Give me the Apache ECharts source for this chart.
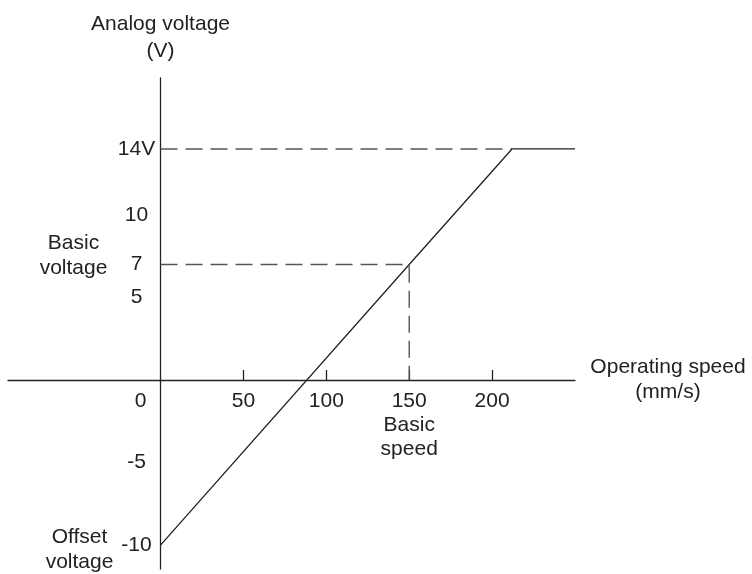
<!DOCTYPE html>
<html>
<head>
<meta charset="utf-8">
<script src="https://cdn.jsdelivr.net/npm/echarts@6/dist/echarts.min.js"></script>
<style>html,body{margin:0;padding:0;background:#fff;}#c{width:752px;height:574px;}</style>
</head>
<body>
<div id="c"></div>
<script>
// ---- data ----
var speedPts = [0, 150, 212, 250];          // mm/s
var voltPts  = [-10, 7, 14, 14];            // V
var dash14Speed = [0, 212];
var dash14Volt  = [14, 14];
var dash7Speed  = [0, 150, 150];
var dash7Volt   = [7, 7, 0];
var xTickValues = [0, 50, 100, 150, 200];
var xTickLabels = ['0', '50', '100', '150\nBasic\nspeed', '200'];
var yTickValues = [14, 10, 7, 5, -5, -10];
var yTickLabels = ['14V', '10', '7', '5', '-5', '-10'];
var basicVoltageAnchor = [0, 7];
var offsetVoltageAnchor = [0, -10];

function zip(a, b) { return a.map(function (v, i) { return [v, b[i]]; }); }

var FONT = '"Liberation Sans", Arial, sans-serif';
var INK = '#222';
var FS = 21;
var W = 752, H = 574;
var G = {left: 8, right: 177, top: 78, bottom: 5};
var chart = echarts.init(document.getElementById('c'), null, {renderer: 'canvas', width: W, height: H});
chart.setOption({
  animation: false,
  backgroundColor: '#fff',
  textStyle: {fontFamily: FONT, color: INK},
  grid: {left: G.left, right: G.right, top: G.top, bottom: G.bottom, containLabel: false, outerBoundsMode: 'none'},
  xAxis: {
    type: 'value', min: -92, max: 250, position: 'bottom', offset: 0,
    splitLine: {show: false},
    axisLine: {onZero: false, lineStyle: {color: INK, width: 1.3}},
    axisTick: {show: true, inside: true, length: 10, customValues: [50, 100, 150, 200], lineStyle: {color: INK, width: 1.3}},
    axisLabel: {
      customValues: xTickValues, margin: 9, fontSize: FS, color: INK, fontFamily: FONT, lineHeight: 24,
      formatter: function (v) {
        var i = xTickValues.indexOf(v);
        var s = i >= 0 ? xTickLabels[i] : '';
        if (v === 0) return '{o|' + s + '}';
        return s;
      },
      rich: {o: {fontSize: FS, color: INK, fontFamily: FONT, padding: [0, 40, 0, 0]}}
    },
    name: 'Operating speed\n(mm/s)', nameLocation: 'end', nameGap: 93,
    nameTextStyle: {fontSize: FS, color: INK, fontFamily: FONT, align: 'center', verticalAlign: 'middle', lineHeight: 25, padding: [25, 0, 0, 0]}
  },
  yAxis: {
    type: 'value', min: -11.45, max: 18.3, position: 'left', offset: 0,
    splitLine: {show: false},
    axisLine: {onZero: false, lineStyle: {color: INK, width: 1.3}},
    axisTick: {show: false},
    axisLabel: {
      customValues: yTickValues, margin: 24, fontSize: FS, color: INK, fontFamily: FONT, align: 'center',
      formatter: function (v) { var i = yTickValues.indexOf(v); return i >= 0 ? yTickLabels[i] : ''; }
    },
    name: 'Analog voltage\n(V)', nameLocation: 'end', nameGap: 13,
    nameTextStyle: {fontSize: FS, color: INK, fontFamily: FONT, align: 'center', verticalAlign: 'bottom', lineHeight: 27}
  },
  series: [
    {
      type: 'line', data: zip(dash14Speed, dash14Volt), symbol: 'none', silent: true,
      lineStyle: {color: '#555', width: 1.4, type: [17, 8]}
    },
    {
      type: 'line', data: zip(dash7Speed, dash7Volt), symbol: 'none', silent: true,
      lineStyle: {color: '#555', width: 1.4, type: [17, 8]},
      markPoint: {
        symbol: 'circle', symbolSize: 0, silent: true,
        label: {show: true, fontSize: FS, color: INK, fontFamily: FONT, lineHeight: 25, align: 'center', verticalAlign: 'middle'},
        data: [
          {coord: basicVoltageAnchor, label: {formatter: 'Basic\nvoltage', offset: [-87, -9]}},
          {coord: offsetVoltageAnchor, label: {formatter: 'Offset\nvoltage', offset: [-81, 5]}}
        ]
      }
    },
    {
      type: 'line', data: zip(speedPts, voltPts), symbol: 'none', silent: true,
      lineStyle: {color: INK, width: 1.3}
    }
  ]
});
// Move both axes (line, ticks, labels, names) to cross at the data origin.
var origin = chart.convertToPixel({gridIndex: 0}, [0, 0]);
chart.setOption({
  xAxis: {offset: origin[1] - (H - G.bottom)},
  yAxis: {offset: G.left - origin[0]}
});
</script>
</body>
</html>
